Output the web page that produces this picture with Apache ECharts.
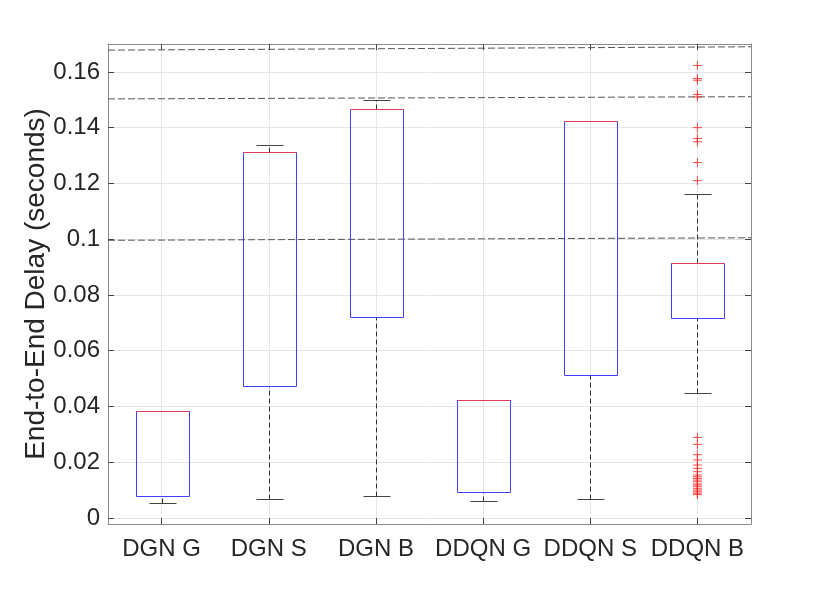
<!DOCTYPE html>
<html>
<head>
<meta charset="utf-8">
<script src="https://cdn.jsdelivr.net/npm/echarts@6/dist/echarts.min.js"></script>
<style>
html,body{margin:0;padding:0;background:#fff;}
#chart{width:830px;height:589px;}
</style>
</head>
<body>
<div id="chart"></div>
<script>
// ---- data ----
const categories = ['DGN G', 'DGN S', 'DGN B', 'DDQN G', 'DDQN S', 'DDQN B'];
const whiskerLow  = [0.0055, 0.0068, 0.0078, 0.0061, 0.0068, 0.0448];
const q1          = [0.0078, 0.0473, 0.0720, 0.0093, 0.0513, 0.0717];
const median      = [0.0383, 0.1312, 0.1466, 0.0423, 0.1423, 0.0914];
const q3          = [0.0383, 0.1312, 0.1466, 0.0423, 0.1423, 0.0914];
const whiskerHigh = [0.0383, 0.1337, 0.1498, 0.0423, 0.1423, 0.1161];
// outliers of DDQN B (category index 5)
const outlierCategory = 5;
const outliersHigh = [0.1623, 0.1576, 0.1570, 0.1519, 0.1510, 0.1400, 0.1361, 0.1349, 0.1275, 0.1210];
const outliersLow = [0.0289, 0.0264, 0.0227, 0.0208, 0.0190, 0.0178, 0.0166, 0.0154, 0.0148, 0.0142,
                     0.0136, 0.0130, 0.0122, 0.0118, 0.0112, 0.0105, 0.0100, 0.0094, 0.0089, 0.0084];
// dashed reference lines: value at left edge and at right edge
const refLineLeft  = [0.1678, 0.1503, 0.0996];
const refLineRight = [0.1690, 0.1511, 0.1005];
// axis ticks
const yTicks = [0, 0.02, 0.04, 0.06, 0.08, 0.1, 0.12, 0.14, 0.16];
const yTickLabels = ['0', '0.02', '0.04', '0.06', '0.08', '0.1', '0.12', '0.14', '0.16'];
const xTicks = [1, 2, 3, 4, 5, 6];
const yMin = -0.00215, yMax = 0.17;
const xMin = 0.5, xMax = 6.5;

// ---- build ----
const boxData = categories.map((c, i) => [i + 1, whiskerLow[i], q1[i], median[i], q3[i], whiskerHigh[i]]);
const outlierData = outliersHigh.concat(outliersLow).map(v => [outlierCategory + 1, v]);

const FONT = '"Liberation Sans", Arial, Helvetica, sans-serif';
const TEXT = '#262626';
const AXIS = '#8a8a8a';
const TICK = '#444';
const GRID = '#e6e6e6';

function px(v) { return Math.round(v) + 0.5; }

function renderBox(params, api) {
  const x = api.value(0);
  const low = api.coord([x, api.value(1)]);
  const b1 = api.coord([x, api.value(2)]);
  const med = api.coord([x, api.value(3)]);
  const b3 = api.coord([x, api.value(4)]);
  const high = api.coord([x, api.value(5)]);
  const bw = api.size([0.5, 0])[0];
  const cw = bw / 2;
  const cx = px(low[0]);
  const whiskerStyle = { stroke: '#333', lineWidth: 1, lineDash: [5, 3], fill: null };
  const capStyle = { stroke: '#444', lineWidth: 1, fill: null };
  const children = [];
  children.push({ type: 'line', shape: { x1: cx, y1: px(b3[1]), x2: cx, y2: px(high[1]) }, style: whiskerStyle });
  children.push({ type: 'line', shape: { x1: cx, y1: px(low[1]), x2: cx, y2: px(b1[1]) }, style: whiskerStyle });
  children.push({ type: 'line', shape: { x1: px(cx - cw / 2), y1: px(high[1]), x2: px(cx + cw / 2), y2: px(high[1]) }, style: capStyle });
  children.push({ type: 'line', shape: { x1: px(cx - cw / 2), y1: px(low[1]), x2: px(cx + cw / 2), y2: px(low[1]) }, style: capStyle });
  const left = px(cx - bw / 2), right = px(cx + bw / 2);
  children.push({ type: 'rect', shape: { x: left, y: px(b3[1]), width: right - left, height: px(b1[1]) - px(b3[1]) },
    style: { stroke: '#4040ff', lineWidth: 1, fill: null } });
  children.push({ type: 'line', shape: { x1: left, y1: px(med[1]), x2: right, y2: px(med[1]) },
    style: { stroke: '#e8385f', lineWidth: 1, fill: null } });
  return { type: 'group', children: children };
}

const chart = echarts.init(document.getElementById('chart'), null, { renderer: 'canvas' });
const fmtY = v => {
  const i = yTicks.findIndex(t => Math.abs(t - v) < 1e-9);
  return i >= 0 ? yTickLabels[i] : '';
};
const option = {
  animation: false,
  backgroundColor: '#fff',
  grid: { left: 108, right: 79, top: 44, bottom: 65, containLabel: false },
  xAxis: [
    {
      type: 'value', min: xMin, max: xMax, position: 'bottom',
      axisLine: { show: true, onZero: false, lineStyle: { color: AXIS, width: 1 } },
      axisTick: { show: true, inside: true, length: 6, customValues: xTicks, lineStyle: { color: TICK } },
      axisLabel: { show: true, customValues: xTicks, margin: 13, fontSize: 24, fontFamily: FONT, color: TEXT,
        formatter: v => categories[Math.round(v) - 1] || '' },
      splitLine: { show: true, lineStyle: { color: GRID, width: 1 } }
    },
    {
      type: 'value', min: xMin, max: xMax, position: 'top',
      axisLine: { show: true, onZero: false, lineStyle: { color: AXIS, width: 1 } },
      axisTick: { show: true, inside: true, length: 6, customValues: xTicks, lineStyle: { color: TICK } },
      axisLabel: { show: false },
      splitLine: { show: false }
    }
  ],
  yAxis: [
    {
      type: 'value', min: yMin, max: yMax, position: 'left',
      name: 'End-to-End Delay (seconds)', nameLocation: 'middle', nameGap: 58, nameMoveOverlap: false,
      nameTextStyle: { fontSize: 28, fontFamily: FONT, color: TEXT },
      axisLine: { show: true, onZero: false, lineStyle: { color: AXIS, width: 1 } },
      axisTick: { show: true, inside: true, length: 6, customValues: yTicks, lineStyle: { color: TICK } },
      axisLabel: { show: true, customValues: yTicks, margin: 8, fontSize: 24, fontFamily: FONT, color: TEXT, formatter: fmtY },
      splitLine: { show: true, lineStyle: { color: GRID, width: 1 } }
    },
    {
      type: 'value', min: yMin, max: yMax, position: 'right',
      axisLine: { show: true, onZero: false, lineStyle: { color: AXIS, width: 1 } },
      axisTick: { show: true, inside: true, length: 6, customValues: yTicks, lineStyle: { color: TICK } },
      axisLabel: { show: false },
      splitLine: { show: false }
    }
  ],
  series: [
    ...refLineLeft.map((v, i) => ({
      type: 'line', xAxisIndex: 0, yAxisIndex: 0, symbol: 'none', silent: true, z: 3,
      data: [[xMin, v], [xMax, refLineRight[i]]],
      lineStyle: { color: '#555', width: 1, type: [7, 3] }
    })),
    {
      type: 'custom', xAxisIndex: 0, yAxisIndex: 0, z: 4,
      renderItem: renderBox,
      encode: { x: 0, y: [1, 2, 3, 4, 5] },
      data: boxData
    },
    {
      type: 'scatter', xAxisIndex: 0, yAxisIndex: 0, z: 5,
      symbol: 'path://M5 0 L5 10 M0 5 L10 5', symbolSize: 9,
      itemStyle: { color: 'none', borderColor: '#ff2020', borderWidth: 1 },
      data: outlierData
    }
  ]
};
chart.setOption(option);
</script>
</body>
</html>
